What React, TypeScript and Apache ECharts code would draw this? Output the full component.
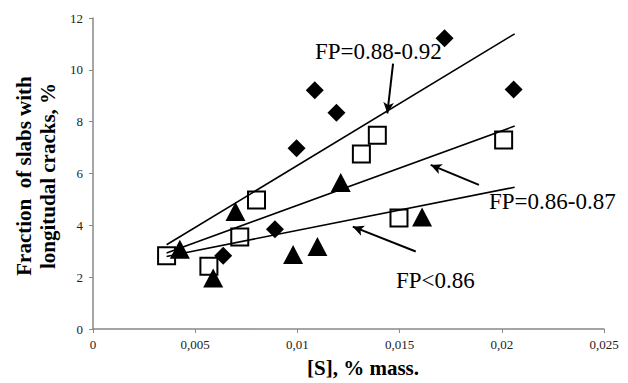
import React, { useEffect, useRef } from "react";
import * as echarts from "echarts";

// FP = 0.88-0.92 (filled diamonds)
const diamondX = [0.00637, 0.0089, 0.00996, 0.01085, 0.01191, 0.0172, 0.02058];
const diamondY = [2.83, 3.85, 6.97, 9.21, 8.34, 11.22, 9.24];
// FP = 0.86-0.87 (open squares)
const squareX = [0.0036, 0.00567, 0.00718, 0.008, 0.01313, 0.01391, 0.01497, 0.02009];
const squareY = [2.83, 2.42, 3.55, 4.98, 6.75, 7.48, 4.28, 7.29];
// FP < 0.86 (filled triangles)
const triangleX = [0.00425, 0.00588, 0.00697, 0.00979, 0.01098, 0.01212, 0.0161];
const triangleY = [3.08, 1.97, 4.53, 2.87, 3.18, 5.65, 4.32];

// Trend lines: [x1, y1, x2, y2]
const trendHigh = [0.0036, 3.25, 0.02063, 11.39];
const trendMid = [0.0036, 2.93, 0.02063, 7.83];
const trendLow = [0.0036, 2.8, 0.02063, 5.47];

// Annotation arrows (data coords): [xFrom, yFrom, xTo, yTo]
const arrowHigh = [0.01468, 10.24, 0.0144, 8.32];
const arrowMid = [0.01888, 5.56, 0.01652, 6.33];
const arrowLow = [0.01579, 2.99, 0.01271, 3.95];

const labelHigh = "FP=0.88-0.92";
const labelMid = "FP=0.86-0.87";
const labelLow = "FP<0.86";

const xTitle = "[S], % mass.";
const yTitle = "Fraction  of slabs with\nlongitudal cracks, %";

const pairs = (xs: number[], ys: number[]) => xs.map((x, i) => [x, ys[i]]);
const seg = (s: number[]) => [[s[0], s[1]], [s[2], s[3]]];

export default function App() {
  const ref = useRef<HTMLDivElement>(null);
  useEffect(() => {
    if (!ref.current) return;
    const chart = echarts.init(ref.current, null, { renderer: "svg" });
    const font = "'Liberation Serif', 'Times New Roman', serif";
    const trendSeries = (s: number[]) => ({
      type: "line",
      data: seg(s),
      showSymbol: false,
      symbol: "none",
      silent: true,
      lineStyle: { color: "#000", width: 1.6 },
      z: 3,
    });
    const annot = (text: string, x: number, y: number) => ({
      type: "text",
      x,
      y,
      style: { text, fontFamily: font, fontSize: 23, fill: "#000", verticalAlign: "middle" },
    });
    chart.setOption({
      animation: false,
      backgroundColor: "#fff",
      grid: { left: 93, right: 24, top: 18, bottom: 54, containLabel: false },
      xAxis: {
        type: "value",
        min: 0,
        max: 0.025,
        interval: 0.005,
        splitLine: { show: false },
        axisLine: { lineStyle: { color: "#888", width: 1.5 } },
        axisTick: { show: true, length: 4, lineStyle: { color: "#888" } },
        axisLabel: {
          color: "#222",
          fontFamily: font,
          fontSize: 13,
          margin: 9,
          formatter: (v: number) => (v === 0 ? "0" : String(+v.toFixed(3)).replace(".", ",")),
        },
      },
      yAxis: {
        type: "value",
        min: 0,
        max: 12,
        interval: 2,
        splitLine: { show: false },
        axisLine: { show: true, lineStyle: { color: "#888", width: 1.5 } },
        axisTick: { show: true, length: 4, lineStyle: { color: "#888" } },
        axisLabel: { color: "#222", fontFamily: font, fontSize: 13, margin: 10 },
      },
      graphic: [
        annot(labelHigh, 315, 51),
        annot(labelMid, 489, 201),
        annot(labelLow, 396, 280),
        {
          type: "text",
          x: 363,
          y: 368,
          style: {
            text: xTitle,
            fontFamily: font,
            fontWeight: "bold",
            fontSize: 21,
            fill: "#000",
            align: "center",
            verticalAlign: "middle",
          },
        },
        {
          type: "text",
          x: 36,
          y: 176,
          rotation: Math.PI / 2,
          style: {
            text: yTitle,
            fontFamily: font,
            fontWeight: "bold",
            fontSize: 21,
            lineHeight: 24,
            fill: "#000",
            align: "center",
            verticalAlign: "middle",
          },
        },
      ],
      series: [
        {
          type: "scatter",
          data: pairs(squareX, squareY),
          symbol: "rect",
          symbolSize: 17,
          itemStyle: { color: "#fff", borderColor: "#000", borderWidth: 2, opacity: 1 },
          z: 2,
        },
        trendSeries(trendHigh),
        trendSeries(trendMid),
        trendSeries(trendLow),
        {
          type: "scatter",
          data: pairs(diamondX, diamondY),
          symbol: "diamond",
          symbolSize: 18,
          itemStyle: { color: "#000", opacity: 1 },
          z: 4,
          markLine: {
            silent: true,
            symbol: ["none", "arrow"],
            symbolSize: [8, 11],
            label: { show: false },
            lineStyle: { color: "#000", width: 2, type: "solid" },
            data: [arrowHigh, arrowMid, arrowLow].map((a) => [
              { coord: [a[0], a[1]] },
              { coord: [a[2], a[3]] },
            ]),
          },
        },
        {
          type: "scatter",
          data: pairs(triangleX, triangleY),
          symbol: "triangle",
          symbolSize: [20, 19],
          itemStyle: { color: "#000", opacity: 1 },
          z: 4,
        },
      ],
    });
    return () => chart.dispose();
  }, []);
  return (
    <div
      ref={ref}
      style={{ position: "fixed", left: 0, top: 0, width: 628, height: 383, background: "#fff" }}
    />
  );
}
